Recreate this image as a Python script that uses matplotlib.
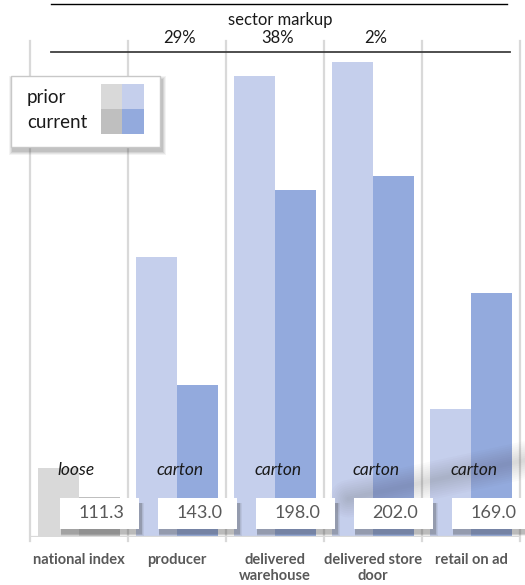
import matplotlib
matplotlib.use("Agg")
import matplotlib.pyplot as plt
import matplotlib.transforms as mtransforms
from matplotlib.patches import Rectangle

plt.rcParams["font.family"] = ["Lato", "DejaVu Sans"]

categories = ["national index", "producer", "delivered\nwarehouse",
              "delivered store\ndoor", "retail on ad"]
prior = [119.5, 179.0, 230.0, 234.0, 136.0]
current = [111.3, 143.0, 198.0, 202.0, 169.0]
pack = ["loose", "carton", "carton", "carton", "carton"]
markup = ["29%", "38%", "2%"]
markup_cols = [1, 2, 3]

GRAY_PRIOR, GRAY_CUR = "#D9D9D9", "#BFBFBF"
BLUE_PRIOR, BLUE_CUR = "#C5CFEC", "#93AADD"
GRID = "#D9D9D9"
TXT = "#595959"

W, H = 525, 585
fig = plt.figure(figsize=(W / 100, H / 100), dpi=100)


def fx(x):
    return x / W


def fy(y):
    return 1 - y / H


ax = fig.add_axes([fx(30), fy(537), fx(520) - fx(30), fy(41) - fy(537)])
ax.set_xlim(-0.5, 4.5)
ax.set_ylim(100, 240)
ax.axis("off")

bw = 0.418
xs = list(range(len(categories)))
for i in xs:
    cp = GRAY_PRIOR if i == 0 else BLUE_PRIOR
    cc = GRAY_CUR if i == 0 else BLUE_CUR
    ax.bar(i - bw / 2, prior[i] - 100, bw, bottom=100, color=cp, zorder=2)
    ax.bar(i + bw / 2, current[i] - 100, bw, bottom=100, color=cc, zorder=2)

# column separators and baseline
for b in [x - 0.5 for x in xs] + [4.5]:
    ax.axvline(b, ymin=-0.008, ymax=1, color=GRID, lw=1.6, clip_on=False, zorder=1)
ax.axhline(100, color=GRID, lw=1.6, zorder=3)

# soft shadow streak across the right-hand columns
for lw in range(3, 28, 3):
    ax.plot([2.75, 4.6], [110.8, 122.0], color="#303030", lw=lw, alpha=0.018,
            solid_capstyle="round", zorder=3, clip_on=False)

# packaging notes
for i in xs:
    ax.text(i - 0.03 if i == 0 else i + 0.03, 118.8, pack[i], ha="center", va="center",
            style="italic", fontsize=12.5, color="#1a1a1a", zorder=5)

# value boxes with drop shadow
box_w, box_h, box_y = 0.814, 8.76, 102.3
for i in xs:
    cx = i + bw / 2
    for k, a in enumerate([0.08, 0.09, 0.11, 0.13]):
        g = 1.4 - k * 0.3
        ax.add_patch(Rectangle((cx - box_w / 2 + 0.015, box_y - 1.3 - g * 0.5),
                               box_w + g * 0.02, box_h + g * 0.4,
                               facecolor="#404040", edgecolor="none", alpha=a,
                               zorder=6, clip_on=False))
    ax.add_patch(Rectangle((cx - box_w / 2, box_y), box_w, box_h,
                           facecolor="white", edgecolor="none", zorder=7,
                           clip_on=False))
    ax.text(cx + 0.02, box_y + box_h / 2, f"{current[i]:.1f}", ha="center", va="center",
            fontsize=13, color=TXT, zorder=8)

# category labels
for i in xs:
    ax.text(i, 95.6, categories[i], ha="center", va="top", fontsize=10.5,
            fontweight="bold", color=TXT, linespacing=1.25)

# header: sector markup
fig.add_artist(plt.Line2D([fx(51), fx(507)], [fy(4), fy(4)], color="black", lw=1))
fig.add_artist(plt.Line2D([fx(51), fx(510)], [fy(52), fy(52)], color="#404040", lw=1.3))
fig.text(fx(280), fy(20), "sector markup", ha="center", va="center", fontsize=12,
         color="#1a1a1a")
tr = mtransforms.blended_transform_factory(ax.transData, fig.transFigure)
for c, m in zip(markup_cols, markup):
    ax.text(c + 0.03, fy(38), m, transform=tr, ha="center", va="center", fontsize=12,
            color="#1a1a1a")

# legend panel
lx0, ly0, lx1, ly1 = 11, 76, 160, 147
for k, a in enumerate([0.06, 0.08, 0.10, 0.12]):
    g = 4 - k
    fig.add_artist(Rectangle((fx(lx0 + 2 - g), fy(ly1 + 4 + g)),
                             fx(lx1 - lx0 + 2 * g), fy(0) - fy(ly1 - ly0 + 2 * g),
                             facecolor="#404040", edgecolor="none", alpha=a))
fig.add_artist(Rectangle((fx(lx0), fy(ly1)), fx(lx1 - lx0), fy(0) - fy(ly1 - ly0),
                         facecolor="white", edgecolor="#C8C8C8", lw=1))
sw = [(101, 84, GRAY_PRIOR), (122, 84, BLUE_PRIOR),
      (101, 109, GRAY_CUR), (122, 109, BLUE_CUR)]
for x0, y0, c in sw:
    fig.add_artist(Rectangle((fx(x0), fy(y0 + 25)), fx(21.5), fy(0) - fy(25),
                             facecolor=c, edgecolor="none"))
fig.text(fx(27), fy(97), "prior", ha="left", va="center", fontsize=13.5, color="#1a1a1a")
fig.text(fx(27), fy(122), "current", ha="left", va="center", fontsize=13.5, color="#1a1a1a")

fig.savefig("out.png", dpi=100)
